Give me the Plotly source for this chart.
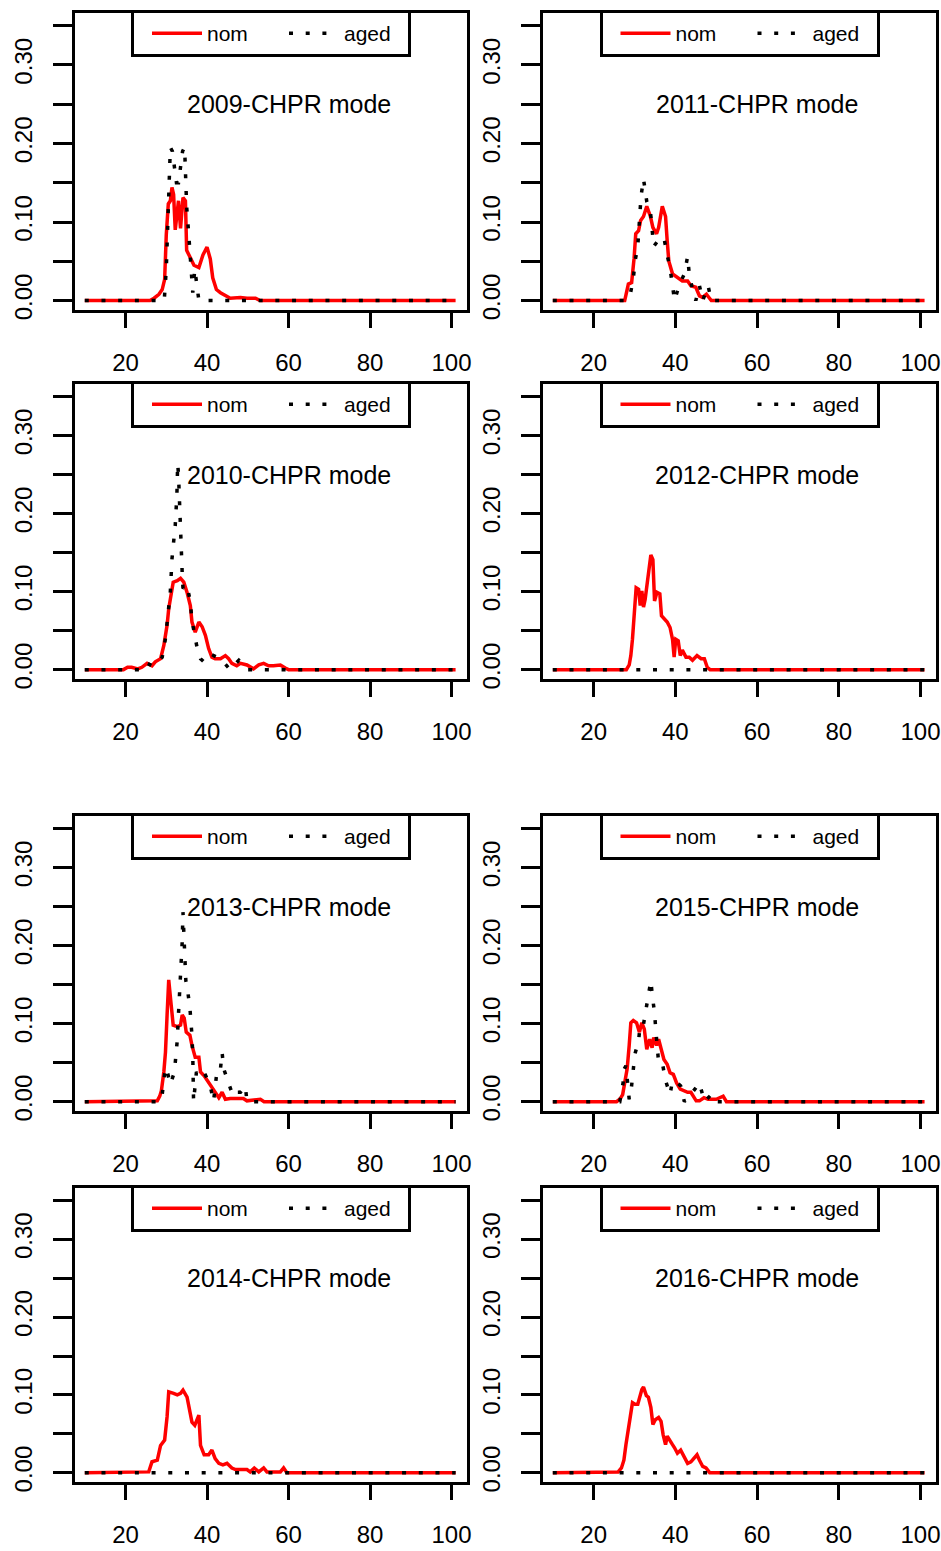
import plotly.graph_objects as go

FONT = "Liberation Sans"

# ---------------- data (length in cm, proportion) ----------------
NOM_2009_X = [10, 26, 27, 28.2, 29, 29.6, 30, 30.5, 31, 31.4, 31.8, 32.2, 33, 33.5, 34.1, 34.7, 35, 36, 36.8, 38, 39, 40, 40.8, 41.4, 42.3, 43.3, 44.5, 45.7, 48.2, 49.8, 51.9, 53, 101]
NOM_2009 = [0, 0, 0.003, 0.008, 0.014, 0.027, 0.084, 0.123, 0.127, 0.144, 0.135, 0.09, 0.127, 0.092, 0.131, 0.127, 0.064, 0.053, 0.045, 0.042, 0.058, 0.068, 0.053, 0.029, 0.014, 0.01, 0.006, 0.003, 0.004, 0.003, 0.003, 0, 0]
AGED_2009_X = [10, 29.5, 30, 30.5, 31, 31.5, 32, 32.5, 33, 33.5, 34, 34.5, 35, 35.5, 36, 36.5, 37, 37.5, 38, 101]
AGED_2009 = [0, 0, 0.04, 0.13, 0.195, 0.19, 0.165, 0.15, 0.15, 0.17, 0.19, 0.195, 0.12, 0.085, 0.05, 0.01, 0.04, 0.02, 0, 0]

NOM_2010_X = [10, 19.5, 20.5, 21.5, 23, 24, 25.3, 26.5, 27.3, 28.6, 29.4, 30.2, 30.6, 31.2, 31.7, 32.7, 33.5, 34.3, 35.1, 35.9, 36.3, 37.1, 38, 38.8, 39.6, 40.4, 41.2, 42, 43.3, 44.5, 45.3, 46.1, 47.3, 48.2, 49.8, 51.4, 52.7, 53.9, 55.1, 56.3, 58, 59.2, 60, 101]
NOM_2010 = [0, 0, 0.003, 0.003, 0.001, 0.003, 0.008, 0.005, 0.01, 0.014, 0.031, 0.057, 0.078, 0.095, 0.112, 0.114, 0.117, 0.112, 0.099, 0.082, 0.061, 0.048, 0.061, 0.055, 0.044, 0.027, 0.016, 0.014, 0.014, 0.018, 0.014, 0.008, 0.005, 0.008, 0.006, 0.001, 0.006, 0.008, 0.005, 0.005, 0.006, 0.002, 0, 0]
AGED_2010_X = [10, 24.5, 25.3, 26.5, 27.8, 29, 29.8, 30.4, 31, 31.4, 31.8, 32.2, 32.6, 32.8, 33, 33.3, 33.6, 33.9, 34.1, 35.1, 35.9, 36.3, 37.6, 38.4, 39.2, 40.8, 41.6, 43.3, 45.7, 47.8, 49.8, 101]
AGED_2010 = [0, 0, 0.008, 0.005, 0.008, 0.016, 0.04, 0.074, 0.1, 0.142, 0.163, 0.185, 0.223, 0.264, 0.25, 0.2, 0.15, 0.125, 0.104, 0.108, 0.087, 0.063, 0.027, 0.014, 0.01, 0.01, 0.018, 0.014, 0, 0.012, 0, 0]

NOM_2011_X = [10, 27.6, 28.5, 29.3, 29.9, 30.3, 31, 31.5, 32.2, 33, 33.9, 34.5, 35.4, 35.9, 36.8, 37.6, 38, 38.4, 39.3, 40.5, 41.7, 43, 43.8, 45, 45.9, 46.7, 47.6, 48.8, 101]
NOM_2011 = [0, 0, 0.021, 0.023, 0.054, 0.085, 0.089, 0.102, 0.107, 0.12, 0.107, 0.093, 0.085, 0.093, 0.12, 0.107, 0.076, 0.05, 0.034, 0.03, 0.025, 0.025, 0.019, 0.017, 0.006, 0.004, 0.008, 0, 0]
AGED_2011_X = [10, 28, 28.9, 29.7, 30.2, 30.8, 31.1, 31.4, 31.6, 32.2, 33, 33.9, 34.3, 34.7, 36.3, 37.2, 38, 38.7, 39.3, 39.8, 40.9, 42.2, 43, 43.4, 44.2, 45, 45.9, 46.7, 48, 48.8, 101]
AGED_2011 = [0, 0, 0.006, 0.028, 0.052, 0.069, 0.093, 0.113, 0.133, 0.155, 0.126, 0.113, 0.091, 0.069, 0.08, 0.08, 0.058, 0.041, 0.019, 0, 0.019, 0.034, 0.056, 0.034, 0.014, 0, 0.019, 0, 0.019, 0, 0]

NOM_2012_X = [10, 28, 28.7, 29.1, 29.5, 30, 30.4, 31, 31.4, 31.8, 32.2, 32.6, 33.2, 33.6, 34, 34.5, 34.9, 35.5, 36.2, 36.6, 37.2, 38, 38.7, 39.3, 39.7, 40.1, 40.7, 41.2, 41.7, 42.6, 43.4, 44.2, 45.3, 46.3, 47.1, 47.8, 48.5, 101]
NOM_2012 = [0, 0, 0.006, 0.018, 0.039, 0.073, 0.105, 0.103, 0.082, 0.101, 0.08, 0.09, 0.116, 0.133, 0.147, 0.141, 0.088, 0.099, 0.097, 0.069, 0.065, 0.061, 0.054, 0.039, 0.016, 0.039, 0.037, 0.018, 0.025, 0.016, 0.016, 0.012, 0.018, 0.014, 0.014, 0.003, 0, 0]
AGED_2012_X = [10, 101]
AGED_2012 = [0, 0]

NOM_2013_X = [10, 27.8, 28.4, 28.8, 29.4, 29.8, 30.2, 30.6, 31.2, 31.7, 32.7, 33.5, 33.9, 34.4, 34.9, 35.8, 36.3, 37.1, 38, 38.4, 39.3, 40.4, 41.2, 42, 42.9, 43.7, 44.5, 45.7, 48.9, 49.8, 53.1, 54, 101]
NOM_2013 = [0, 0.001, 0.007, 0.014, 0.038, 0.063, 0.111, 0.156, 0.124, 0.098, 0.096, 0.098, 0.111, 0.107, 0.089, 0.085, 0.072, 0.057, 0.057, 0.038, 0.033, 0.025, 0.018, 0.012, 0.005, 0.012, 0.003, 0.004, 0.004, 0.001, 0.003, 0, 0]
AGED_2013_X = [10, 28.5, 29, 29.4, 29.8, 30.4, 31, 32, 32.4, 32.7, 32.9, 33.1, 33.3, 33.5, 33.7, 33.9, 34.1, 34.4, 34.8, 35.3, 35.8, 36.3, 36.5, 36.7, 37.4, 38, 39.2, 40, 40.8, 41.6, 42.5, 43.3, 43.7, 44.1, 45.3, 46.4, 47.4, 48.2, 49.4, 49.8, 101]
AGED_2013 = [0, 0, 0.009, 0.027, 0.044, 0.035, 0.022, 0.038, 0.059, 0.079, 0.102, 0.122, 0.143, 0.165, 0.184, 0.204, 0.243, 0.2, 0.155, 0.14, 0.12, 0.085, 0.06, 0.0, 0.038, 0.033, 0.038, 0.03, 0.02, 0, 0.042, 0.042, 0.063, 0.042, 0.025, 0.007, 0.012, 0.012, 0.02, 0, 0]

NOM_2014_X = [10, 25.7, 26.5, 27.8, 28.6, 29.6, 30.2, 30.6, 31.8, 32.7, 33.5, 34.1, 35.1, 35.8, 36.3, 37, 38, 38.4, 39.3, 40.4, 41.2, 42, 42.9, 43.9, 44.9, 46.1, 47, 49.8, 50.6, 51.6, 52.7, 53.9, 54.7, 58, 58.8, 59.6, 101]
NOM_2014 = [0, 0.001, 0.014, 0.016, 0.035, 0.042, 0.072, 0.104, 0.102, 0.1, 0.102, 0.106, 0.097, 0.078, 0.065, 0.061, 0.074, 0.035, 0.023, 0.023, 0.029, 0.018, 0.012, 0.01, 0.012, 0.006, 0.004, 0.004, 0.001, 0.006, 0.001, 0.006, 0.001, 0.001, 0.006, 0, 0]
AGED_2014_X = [10, 101]
AGED_2014 = [0, 0]

NOM_2015_X = [10, 25.6, 26.4, 27.1, 27.6, 28.2, 28.7, 29.1, 29.7, 30.5, 31.2, 31.8, 32.4, 33, 33.7, 34.3, 34.7, 35.4, 35.9, 36.5, 37.2, 38, 38.7, 39.5, 40.3, 41.2, 42.2, 43, 43.8, 44.5, 45.1, 45.9, 47, 48, 50, 51.7, 52.5, 101]
NOM_2015 = [0, 0, 0.003, 0.009, 0.024, 0.042, 0.072, 0.101, 0.104, 0.101, 0.089, 0.101, 0.093, 0.067, 0.08, 0.069, 0.082, 0.072, 0.08, 0.067, 0.054, 0.048, 0.037, 0.035, 0.024, 0.016, 0.014, 0.012, 0.012, 0.005, 0.001, 0.001, 0.005, 0.003, 0.003, 0.007, 0, 0]
AGED_2015_X = [10, 26.4, 27.2, 27.5, 27.9, 28.5, 28.7, 29.2, 29.7, 30.1, 31, 31.4, 32.2, 32.9, 33.4, 34, 34.4, 34.9, 35.2, 35.9, 36.8, 37.6, 38.7, 39.3, 40.5, 41.3, 42.2, 44.2, 45.9, 46.4, 47.1, 48.8, 49.6, 101]
AGED_2015 = [0, 0, 0.024, 0.042, 0.046, 0.01, 0.003, 0.016, 0.037, 0.061, 0.078, 0.099, 0.099, 0.119, 0.138, 0.155, 0.134, 0.114, 0.093, 0.05, 0.05, 0.027, 0.009, 0.027, 0.024, 0.02, 0, 0.012, 0.024, 0.012, 0, 0.009, 0, 0]

NOM_2016_X = [10, 24.7, 26, 26.8, 27.4, 27.9, 28.5, 29, 29.5, 30.1, 30.8, 31.2, 31.8, 32.2, 32.9, 33.4, 34, 34.5, 35.1, 35.9, 36.5, 37, 37.6, 38, 38.7, 39.3, 39.8, 40.5, 41.3, 42.2, 43, 43.8, 44.6, 45.3, 45.9, 46.7, 47.5, 48.4, 101]
NOM_2016 = [0, 0, 0.001, 0.006, 0.016, 0.036, 0.06, 0.073, 0.09, 0.088, 0.088, 0.097, 0.107, 0.11, 0.099, 0.097, 0.084, 0.062, 0.068, 0.071, 0.066, 0.049, 0.036, 0.047, 0.042, 0.036, 0.032, 0.025, 0.029, 0.021, 0.012, 0.014, 0.019, 0.023, 0.016, 0.008, 0.006, 0, 0]
AGED_2016_X = [10, 101]
AGED_2016 = [0, 0]

YEARS = ["2009", "2011", "2010", "2012", "2013", "2015", "2014", "2016"]
SERIES_NAMES = ["nom", "aged"]
X_TICKS = [20, 40, 60, 80, 100]

# ---------------- layout geometry (page pixels) ----------------
W, H = 941, 1551
COL_PX = [(75, 467), (543, 936)]
ROW_PX = [(13, 310), (384, 679), (816, 1111), (1188, 1482)]
BOX_TOP = [10, 381, 813, 1185]
XRANGE = [7.6, 103.8]
YRANGE = [-0.012, 0.366]

panels = [
    (NOM_2009_X, NOM_2009, AGED_2009_X, AGED_2009),
    (NOM_2011_X, NOM_2011, AGED_2011_X, AGED_2011),
    (NOM_2010_X, NOM_2010, AGED_2010_X, AGED_2010),
    (NOM_2012_X, NOM_2012, AGED_2012_X, AGED_2012),
    (NOM_2013_X, NOM_2013, AGED_2013_X, AGED_2013),
    (NOM_2015_X, NOM_2015, AGED_2015_X, AGED_2015),
    (NOM_2014_X, NOM_2014, AGED_2014_X, AGED_2014),
    (NOM_2016_X, NOM_2016, AGED_2016_X, AGED_2016),
]

fig = go.Figure()
layout = {}
annotations = []
for i, (nx, ny, agx, agy) in enumerate(panels):
    assert len(nx) == len(ny) and len(agx) == len(agy)
    k = i + 1
    r, c = divmod(i, 2)
    sfx = "" if k == 1 else str(k)
    xa, ya, lg = "x" + sfx, "y" + sfx, "legend" + sfx
    fig.add_trace(go.Scatter(x=nx, y=ny, mode="lines", name=SERIES_NAMES[0],
                             line=dict(color="#FF0000", width=3.5),
                             xaxis=xa, yaxis=ya, legend=lg))
    fig.add_trace(go.Scatter(x=agx, y=agy, mode="lines", name=SERIES_NAMES[1],
                             line=dict(color="black", width=3.5, dash="4px,12.7px"),
                             xaxis=xa, yaxis=ya, legend=lg))
    x0, x1 = COL_PX[c]
    y0, y1 = ROW_PX[r]
    common = dict(showline=True, linewidth=3, linecolor="black", mirror=True,
                  ticks="outside", tickwidth=3, tickcolor="black",
                  showgrid=False, zeroline=False, automargin=False,
                  tickfont=dict(family=FONT, size=24, color="black"))
    layout["xaxis" + sfx] = dict(domain=[x0 / W, x1 / W], anchor=ya, range=XRANGE,
                                 tickvals=X_TICKS, ticklen=15, ticklabelstandoff=14, **common)
    layout["yaxis" + sfx] = dict(domain=[1 - y1 / H, 1 - y0 / H], anchor=xa, range=YRANGE,
                                 tick0=0, dtick=0.1, tickformat=".2f", ticklen=19,
                                 tickangle=-90, ticklabelstandoff=11,
                                 minor=dict(dtick=0.05, ticks="outside", ticklen=19,
                                            tickwidth=3, tickcolor="black"),
                                 **common)
    layout[lg] = dict(x=(x0 + x1) / 2 / W, xanchor="center",
                      y=1 - BOX_TOP[r] / H, yanchor="top",
                      orientation="h", bgcolor="white",
                      bordercolor="black", borderwidth=3, itemwidth=50,
                      indentation=13, entrywidth=59,
                      font=dict(family=FONT, size=21, color="black"))
    annotations.append(dict(x=60, y=0.25, xref=xa, yref=ya, text=YEARS[i] + "-CHPR mode",
                            showarrow=False, xanchor="center", yanchor="middle",
                            font=dict(family=FONT, size=25, color="black")))

fig.update_layout(width=W, height=H, margin=dict(l=0, r=0, t=0, b=0),
                  paper_bgcolor="white", plot_bgcolor="white",
                  showlegend=True, annotations=annotations, **layout)
fig.write_html("out.html", config={"displayModeBar": False},
               post_script="document.body.style.margin='0px';"
                           "document.documentElement.style.overflow='hidden';")
